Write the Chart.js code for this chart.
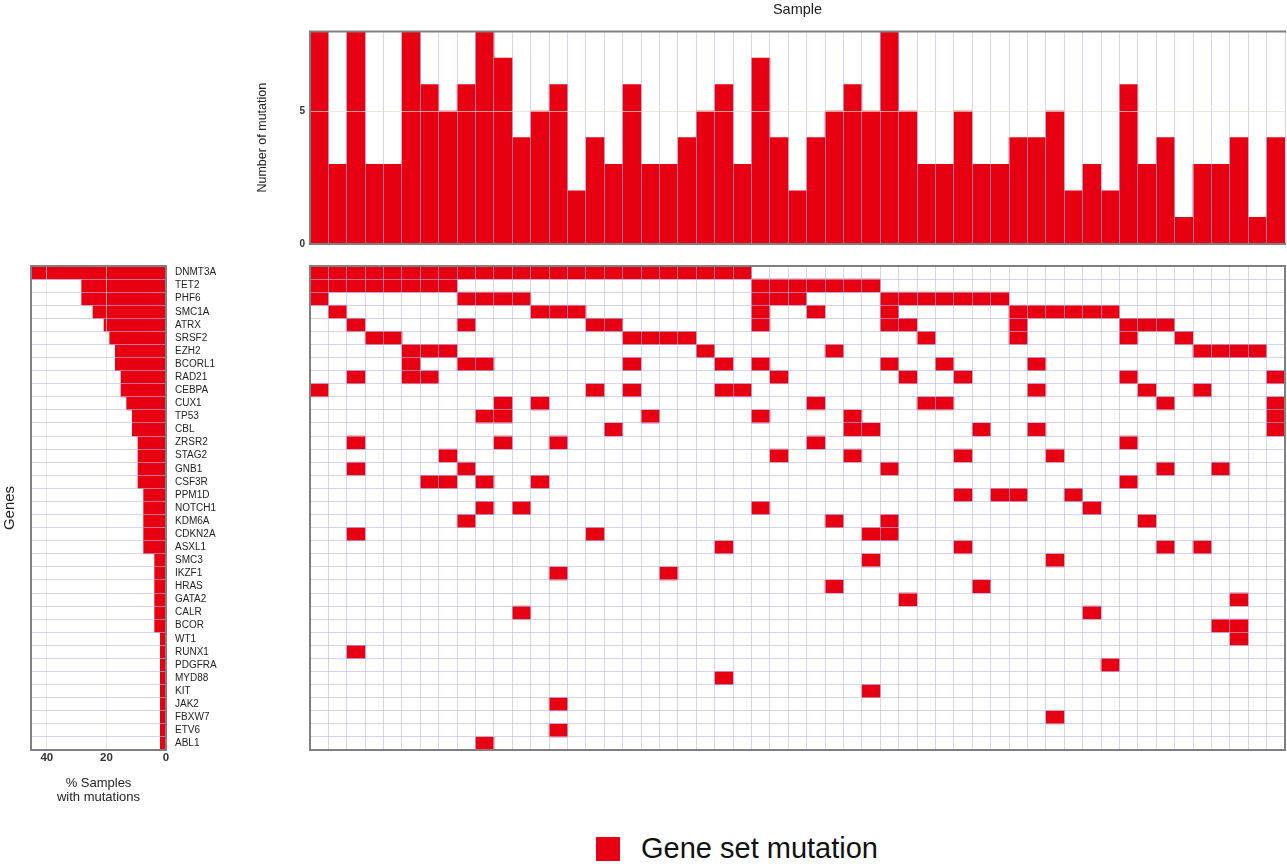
<!DOCTYPE html>
<html>
<head>
<meta charset="utf-8">
<script src="https://cdn.jsdelivr.net/npm/chart.js@4"></script>
<style>
  body { margin: 0; background: #fff; font-family: "Liberation Sans", Arial, sans-serif; }
  #wrap { position: relative; width: 1287px; height: 867px; overflow: hidden; }
  canvas { position: absolute; }
  #topChart { left: 230px; top: 0; }
  #sideChart { left: 0; top: 251px; }
  #gridChart { left: 300px; top: 255px; }
  .legend { position: absolute; left: 596px; top: 832px; display: flex; align-items: center; }
  .legend span.box { width: 24px; height: 24px; background: #e60012; margin-right: 21px; }
  .legend span.txt { font-size: 29px; color: #111; }
</style>
</head>
<body>
<div id="wrap">
  <canvas id="topChart" width="1057" height="255"></canvas>
  <canvas id="sideChart" width="300" height="564"></canvas>
  <canvas id="gridChart" width="987" height="505"></canvas>
  <div class="legend"><span class="box"></span><span class="txt">Gene set mutation</span></div>
</div>
<script>
// ---- data ----
const samples = ["S1","S2","S3","S4","S5","S6","S7","S8","S9","S10","S11","S12","S13","S14","S15","S16","S17","S18",
  "S19","S20","S21","S22","S23","S24","S25","S26","S27","S28","S29","S30","S31","S32","S33","S34","S35","S36",
  "S37","S38","S39","S40","S41","S42","S43","S44","S45","S46","S47","S48","S49","S50","S51","S52","S53"];

const genes = ["DNMT3A","TET2","PHF6","SMC1A","ATRX","SRSF2","EZH2","BCORL1","RAD21","CEBPA","CUX1","TP53","CBL",
  "ZRSR2","STAG2","GNB1","CSF3R","PPM1D","NOTCH1","KDM6A","CDKN2A","ASXL1","SMC3","IKZF1","HRAS","GATA2","CALR",
  "BCOR","WT1","RUNX1","PDGFRA","MYD88","KIT","JAK2","FBXW7","ETV6","ABL1"];

// number of mutations per sample (top bars)
const mutationCounts = [8,3,8,3,3,8,6,5,6,8,7,4,5,6,2,4,3,6,3,3,4,5,6,3,7,4,2,4,5,6,5,8,5,3,3,5,3,3,4,4,5,2,3,2,6,3,4,1,3,3,4,1,4];

// % samples with mutations per gene (left bars)
const pctSamples = [45.3,28.3,28.3,24.5,20.8,18.9,17.0,17.0,15.1,15.1,13.2,11.3,11.3,9.4,9.4,9.4,9.4,
  7.5,7.5,7.5,7.5,7.5,3.8,3.8,3.8,3.8,3.8,3.8,1.9,1.9,1.9,1.9,1.9,1.9,1.9,1.9,1.9];

// sample indices (0-based) mutated for each gene, same order as genes
const mutatedSamples = [
  [0,1,2,3,4,5,6,7,8,9,10,11,12,13,14,15,16,17,18,19,20,21,22,23],
  [0,1,2,3,4,5,6,7,24,25,26,27,28,29,30],
  [0,8,9,10,11,24,25,26,31,32,33,34,35,36,37],
  [1,12,13,14,24,27,31,38,39,40,41,42,43],
  [2,8,15,16,24,31,32,38,44,45,46],
  [3,4,17,18,19,20,33,38,44,47],
  [5,6,7,21,28,48,49,50,51],
  [5,8,9,17,22,24,31,34,39],
  [2,5,6,25,32,35,44,52],
  [0,15,17,22,23,39,45,48],
  [10,12,27,33,34,46,52],
  [9,10,18,24,29,52],
  [16,29,30,36,39,52],
  [2,10,13,27,44],
  [7,25,29,35,40],
  [2,8,31,46,49],
  [6,7,9,12,44],
  [35,37,38,41],
  [9,11,24,42],
  [8,28,31,45],
  [2,15,30,31],
  [22,35,46,48],
  [30,40],
  [13,19],
  [28,36],
  [32,50],
  [11,42],
  [49,50],
  [50],
  [2],
  [43],
  [22],
  [30],
  [13],
  [40],
  [13],
  [9]
];

const yTicksTop = [0, 5];
const xTicksSide = [0, 20, 40];

// ---- styles ----
const RED = "#e60012";
const LAV = "rgba(185,185,235,0.6)";
const BEIGE = "rgba(225,222,200,0.7)";
const FRAME = "#808080";
const FONT = "'Liberation Sans', Arial, sans-serif";
Chart.defaults.font.family = FONT;
Chart.defaults.color = "#222";

const framePlugin = {
  id: "frame",
  afterDraw(chart, args, opts) {
    const { ctx, chartArea: a } = chart;
    const sides = opts.sides || "tlbr";
    ctx.save();
    ctx.strokeStyle = FRAME;
    ctx.lineWidth = 2;
    ctx.beginPath();
    if (sides.includes("t")) { ctx.moveTo(a.left - 1, a.top); ctx.lineTo(a.right + 1, a.top); }
    if (sides.includes("b")) { ctx.moveTo(a.left - 1, a.bottom); ctx.lineTo(a.right + 1, a.bottom); }
    if (sides.includes("l")) { ctx.moveTo(a.left, a.top); ctx.lineTo(a.left, a.bottom); }
    if (sides.includes("r")) { ctx.moveTo(a.right, a.top); ctx.lineTo(a.right, a.bottom); }
    ctx.stroke();
    ctx.restore();
  }
};

const noBorder = { display: false };

// ---- top: mutations per sample ----
new Chart(document.getElementById("topChart"), {
  type: "bar",
  data: {
    labels: samples,
    datasets: [{ data: mutationCounts, backgroundColor: RED, barPercentage: 1, categoryPercentage: 1 }]
  },
  options: {
    responsive: false,
    animation: false,
    layout: { padding: { top: 0, right: 2, bottom: 4, left: 0 } },
    plugins: {
      legend: { display: false },
      tooltip: { enabled: false },
      title: {
        display: true, text: "Sample", fullSize: false,
        font: { size: 14.5, weight: "normal" }, color: "#222",
        padding: { top: 1, bottom: 13 }
      },
      frame: { sides: "tlb" }
    },
    scales: {
      x: {
        grid: { offset: true, color: LAV, z: 1, drawTicks: false },
        border: noBorder,
        ticks: { display: false },
        afterFit: s => { s.height = 0; }
      },
      y: {
        min: 0, max: 8,
        afterBuildTicks: s => { s.ticks = yTicksTop.map(v => ({ value: v })); },
        ticks: { font: { size: 10, weight: "bold" }, color: "#333", padding: 5 },
        grid: { color: c => (c.tick && c.tick.value === 5) ? BEIGE : "rgba(0,0,0,0)", z: 1, drawTicks: false },
        border: noBorder,
        title: { display: true, text: "Number of mutation", font: { size: 12.5 }, color: "#222", padding: { top: 25, bottom: 0 } },
        afterFit: s => { s.width = 80; }
      }
    }
  },
  plugins: [framePlugin]
});

// ---- left: % samples with mutations ----
new Chart(document.getElementById("sideChart"), {
  type: "bar",
  data: {
    labels: genes,
    datasets: [{ data: pctSamples, backgroundColor: RED, barPercentage: 1, categoryPercentage: 1 }]
  },
  options: {
    indexAxis: "y",
    responsive: false,
    animation: false,
    layout: { padding: { top: 7, right: 0, bottom: 5, left: 0 } },
    plugins: { legend: { display: false }, tooltip: { enabled: false }, frame: { sides: "tlbr" } },
    scales: {
      x: {
        reverse: true, min: 0, max: 45.3,
        afterBuildTicks: s => { s.ticks = xTicksSide.map(v => ({ value: v })); },
        ticks: { font: { size: 11.5, weight: "bold" }, color: "#333", padding: 1 },
        grid: { color: BEIGE, z: 1, drawTicks: false },
        border: noBorder,
        title: {
          display: true, text: ["% Samples", "with mutations"],
          font: { size: 13, lineHeight: 1.08 }, color: "#222", padding: { top: 0, bottom: 6 }
        },
        afterFit: s => { s.height = 60; }
      },
      y: {
        position: "right",
        grid: { offset: true, color: LAV, z: 1, drawTicks: false },
        border: noBorder,
        ticks: { font: { size: 10 }, color: "#222", padding: 9, autoSkip: false },
        afterFit: s => { s.width = 134; }
      },
      g: {
        type: "linear", position: "left", axis: "y",
        grid: { display: false }, border: noBorder, ticks: { display: false },
        title: { display: true, text: "Genes", font: { size: 15 }, color: "#222", padding: { top: 1, bottom: 0 } },
        afterFit: s => { s.width = 31; }
      }
    }
  },
  plugins: [framePlugin]
});

// ---- main grid: gene x sample ----
const cells = [];
mutatedSamples.forEach((list, g) => {
  list.forEach(s => cells.push({ x: samples[s], y: [g, g + 1] }));
});

new Chart(document.getElementById("gridChart"), {
  type: "bar",
  data: {
    labels: samples,
    datasets: [{ data: cells, backgroundColor: RED, barPercentage: 1, categoryPercentage: 1 }]
  },
  options: {
    responsive: false,
    animation: false,
    layout: { padding: { top: 11, right: 2, bottom: 10, left: 10 } },
    plugins: { legend: { display: false }, tooltip: { enabled: false }, frame: { sides: "tlbr" } },
    scales: {
      x: {
        grid: { offset: true, color: LAV, z: 1, drawTicks: false },
        border: noBorder,
        ticks: { display: false },
        afterFit: s => { s.height = 0; }
      },
      y: {
        reverse: true, min: 0, max: genes.length,
        ticks: { display: false, stepSize: 1 },
        grid: { color: LAV, z: 1, drawTicks: false },
        border: noBorder,
        afterFit: s => { s.width = 0; }
      }
    }
  },
  plugins: [framePlugin]
});
</script>
</body>
</html>
